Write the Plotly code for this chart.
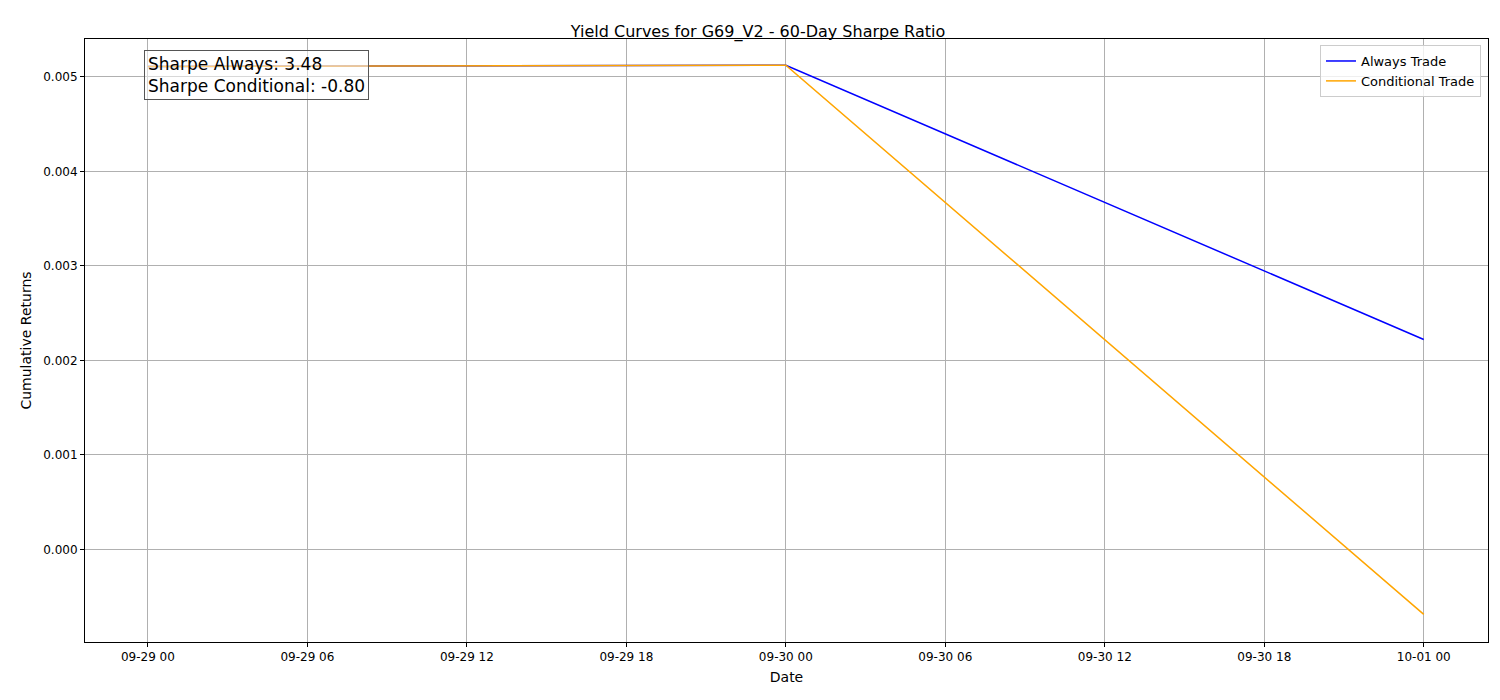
import plotly.graph_objects as go

dates = ["2024-09-29 00:00", "2024-09-30 00:00", "2024-10-01 00:00"]
always = [0.00511, 0.005122, 0.00222]
conditional = [0.00511, 0.005122, -0.000687]
tick_vals = ["2024-09-29 00:00", "2024-09-29 06:00", "2024-09-29 12:00", "2024-09-29 18:00",
             "2024-09-30 00:00", "2024-09-30 06:00", "2024-09-30 12:00", "2024-09-30 18:00",
             "2024-10-01 00:00"]
tick_text = ["09-29 00", "09-29 06", "09-29 12", "09-29 18", "09-30 00",
             "09-30 06", "09-30 12", "09-30 18", "10-01 00"]

fig = go.Figure()
fig.add_trace(go.Scatter(x=dates, y=always, mode="lines", name="Always Trade",
                         line=dict(color="blue", width=1.5)))
fig.add_trace(go.Scatter(x=dates, y=conditional, mode="lines", name="Conditional Trade",
                         line=dict(color="orange", width=1.5)))

axis_common = dict(showline=True, linecolor="black", mirror=True, showgrid=True,
                   gridcolor="#b0b0b0", gridwidth=1, ticks="outside", ticklen=4,
                   tickcolor="black", zeroline=False, automargin=False)

fig.update_layout(
    width=1500, height=700,
    paper_bgcolor="white", plot_bgcolor="white",
    font=dict(family="DejaVu Sans", size=12, color="black"),
    title=dict(text="Yield Curves for G69_V2 - 60-Day Sharpe Ratio", x=0.5, xanchor="center",
               y=0.967, yanchor="middle", font=dict(size=16)),
    margin=dict(l=77, r=20, t=31, b=66),
    xaxis=dict(title=dict(text="Date", standoff=8), tickvals=tick_vals, ticktext=tick_text,
               range=["2024-09-28 21:38", "2024-10-01 02:25"], **axis_common),
    yaxis=dict(title=dict(text="Cumulative Returns", standoff=8), range=[-0.00098, 0.00540],
               tickvals=[0, 0.001, 0.002, 0.003, 0.004, 0.005], tickformat=".3f", **axis_common),
    legend=dict(x=0.995, y=0.99, xanchor="right", yanchor="top", bgcolor="rgba(255,255,255,0.8)",
                bordercolor="#cccccc", borderwidth=1, font=dict(size=13)),
    showlegend=True,
)
fig.add_annotation(xref="paper", yref="paper", x=0.042, y=0.982, xanchor="left", yanchor="top",
                   text="Sharpe Always: 3.48<br>Sharpe Conditional: -0.80", align="left",
                   showarrow=False, font=dict(size=17), bgcolor="rgba(255,255,255,0.5)",
                   bordercolor="#555555", borderwidth=1, borderpad=3)

fig.write_html("out.html")
